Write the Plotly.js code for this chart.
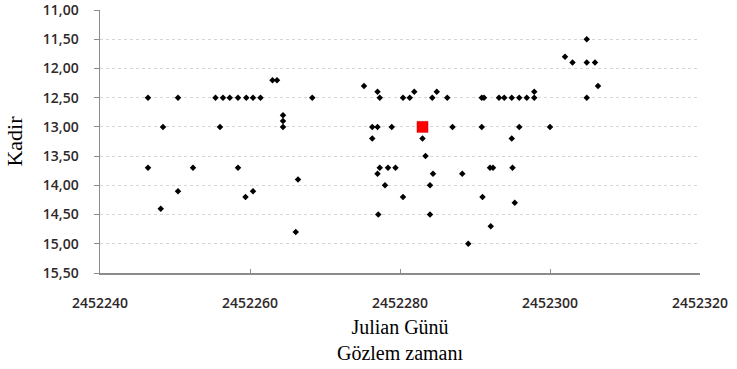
<!DOCTYPE html>
<html><head><meta charset="utf-8">
<script src="https://cdn.plot.ly/plotly-3.0.1.min.js"></script>
<style>html,body{margin:0;padding:0;background:#fff}#chart{width:737px;height:369px}</style>
</head><body><div id="chart"></div>
<script>
const julianDay = [
 2452246.4,2452246.4,2452248.4,2452248.1,2452250.4,2452250.4,2452252.4,2452255.4,2452256.0,2452256.4,
 2452257.3,2452258.4,2452258.4,2452259.4,2452259.5,2452260.4,2452260.4,2452261.4,2452263.0,2452263.6,
 2452264.4,2452264.4,2452264.4,2452266.4,2452266.1,2452268.3,2452275.2,2452277.0,2452277.3,2452276.3,
 2452277.0,2452276.3,2452278.9,2452277.3,2452277.0,2452278.4,2452279.4,2452278.0,2452280.4,2452277.1,
 2452280.4,2452281.3,2452281.9,2452283.0,2452283.4,2452284.4,2452284.0,2452284.0,2452284.3,2452284.9,
 2452286.3,2452287.0,2452288.3,2452289.1,2452290.9,2452291.2,2452290.9,2452291.0,2452292.1,2452292.0,
 2452292.4,2452293.2,2452293.9,2452294.9,2452294.9,2452295.0,2452295.3,2452295.9,2452295.9,2452296.9,
 2452297.9,2452297.9,2452300.0,2452302.0,2452303.0,2452304.9,2452304.9,2452304.9,2452306.0,2452306.4
];
const magnitude = [
 12.5,13.7,13.0,14.4,12.5,14.1,13.7,12.5,13.0,12.5,
 12.5,12.5,13.7,14.2,12.5,12.5,14.1,12.5,12.2,12.2,
 12.8,12.9,13.0,13.9,14.8,12.5,12.3,12.4,12.5,13.0,
 13.0,13.2,13.0,13.7,13.8,13.7,13.7,14.0,14.2,14.5,
 12.5,12.5,12.4,13.2,13.5,13.8,14.0,14.5,12.5,12.4,
 12.5,13.0,13.8,15.0,12.5,12.5,13.0,14.2,14.7,13.7,
 13.7,12.5,12.5,12.5,13.2,13.7,14.3,12.5,13.0,12.5,
 12.4,12.5,13.0,11.8,11.9,11.5,11.9,12.5,11.9,12.3
];
const highlightDay = [2452283.0];
const highlightMag = [13.0];
const xTicks = [2452240,2452260,2452280,2452300,2452320];
const yTicks = [11.0,11.5,12.0,12.5,13.0,13.5,14.0,14.5,15.0,15.5];

const traces = [
 {x: julianDay, y: magnitude, type:'scatter', mode:'markers',
  marker:{symbol:'diamond', size:5, color:'#000'}, hoverinfo:'x+y'},
 {x: highlightDay, y: highlightMag, type:'scatter', mode:'markers',
  marker:{symbol:'square', size:11, color:'#ff0000', line:{color:'#c00000', width:0.5}}}
];
const tickFont = {family:'Open Sans, Liberation Sans, sans-serif', size:14, color:'#2e2828', weight:600};
const titleFont = {family:'Liberation Serif, DejaVu Serif, serif', size:20, color:'#000'};
const layout = {
 width:737, height:369, showlegend:false,
 paper_bgcolor:'#fff', plot_bgcolor:'#fff',
 separators:',.',
 margin:{l:100, r:37, t:10, b:96},
 xaxis:{range:[2452240,2452320], tickvals:xTicks, ticktext:xTicks.map(String),
   showgrid:false, zeroline:false, showline:true, linecolor:'#8c8c8c', linewidth:1.5,
   ticks:'inside', ticklen:4, tickcolor:'#8c8c8c', tickfont:tickFont,
   ticklabelstandoff:17, ticklabeloverflow:'allow',
   title:{text:'Julian Günü<br>Gözlem zamanı', font:titleFont, standoff:8}},
 yaxis:{range:[15.5,11.0], tickvals:yTicks, tickformat:'.2f',
   showgrid:true, gridcolor:'#d6d6d6', griddash:'dot', gridwidth:1,
   zeroline:false, showline:true, linecolor:'#8c8c8c', linewidth:1.5,
   ticks:'outside', ticklen:5, tickcolor:'#8c8c8c', tickfont:tickFont,
   ticklabelstandoff:12, ticklabeloverflow:'allow',
   title:{text:'Kadir', font:Object.assign({}, titleFont, {size:22}), standoff:14}}
};
Plotly.newPlot('chart', traces, layout, {displayModeBar:false, staticPlot:true});
</script></body></html>
